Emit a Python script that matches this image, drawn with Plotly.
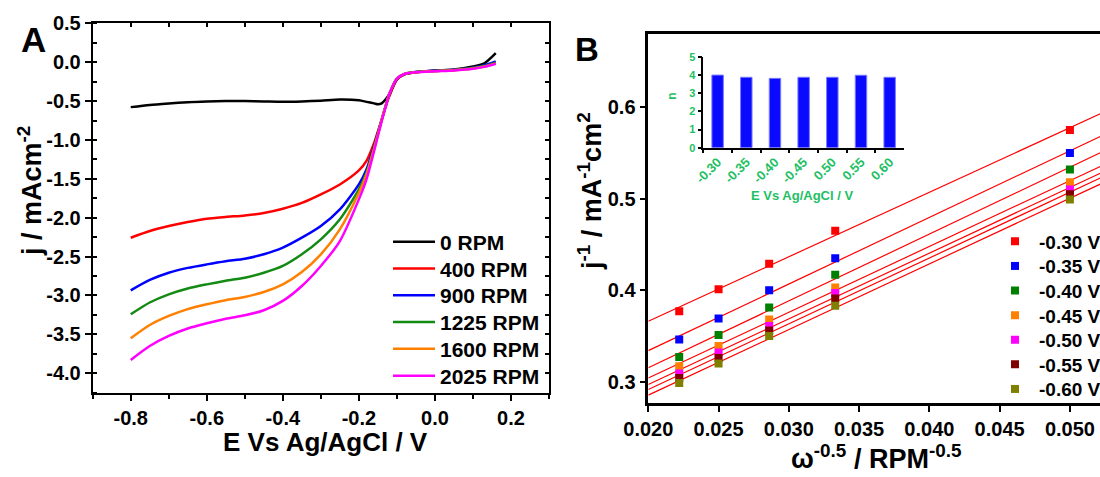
import numpy as np
import plotly.graph_objects as go

# ---------------- Panel A data (LSV curves) ----------------
E_A = [-0.8, -0.75, -0.7, -0.65, -0.6, -0.55, -0.5, -0.45, -0.4, -0.35, -0.3, -0.25,
       -0.2, -0.18, -0.16, -0.15, -0.14, -0.13, -0.12, -0.1, -0.08, -0.05, 0.0, 0.05,
       0.1, 0.13, 0.16]
j_0 = [-0.578, -0.55, -0.531, -0.515, -0.505, -0.50, -0.50, -0.505, -0.51, -0.505, -0.495,
       -0.48, -0.49, -0.51, -0.53, -0.54, -0.53, -0.48, -0.41, -0.22, -0.155, -0.13, -0.107,
       -0.094, -0.055, -0.015, 0.115]
j_400 = [-2.257, -2.17, -2.107, -2.055, -2.013, -1.99, -1.97, -1.94, -1.885, -1.81, -1.70,
         -1.572, -1.392, -1.27, -1.04, -0.89, -0.74, -0.58, -0.44, -0.225, -0.155, -0.128,
         -0.112, -0.10, -0.075, -0.05, -0.005]
j_900 = [-2.934, -2.80, -2.707, -2.645, -2.60, -2.56, -2.527, -2.47, -2.385, -2.257, -2.107,
         -1.893, -1.572, -1.38, -1.08, -0.91, -0.74, -0.57, -0.42, -0.215, -0.15, -0.125,
         -0.11, -0.098, -0.07, -0.04, 0.01]
j_1225 = [-3.242, -3.09, -2.985, -2.91, -2.857, -2.81, -2.771, -2.707, -2.62, -2.47, -2.278,
          -2.021, -1.636, -1.42, -1.10, -0.92, -0.74, -0.57, -0.41, -0.21, -0.15, -0.127,
          -0.113, -0.10, -0.075, -0.05, -0.005]
j_1600 = [-3.55, -3.38, -3.263, -3.175, -3.113, -3.06, -3.019, -2.955, -2.857, -2.698, -2.471,
          -2.15, -1.68, -1.443, -1.113, -0.93, -0.745, -0.57, -0.41, -0.21, -0.15, -0.128,
          -0.115, -0.103, -0.08, -0.055, -0.015]
j_2025 = [-3.829, -3.65, -3.52, -3.425, -3.358, -3.30, -3.255, -3.19, -3.07, -2.878, -2.62,
          -2.30, -1.764, -1.507, -1.143, -0.95, -0.758, -0.58, -0.41, -0.21, -0.152, -0.13,
          -0.117, -0.106, -0.085, -0.06, -0.02]
names_A = ["0 RPM", "400 RPM", "900 RPM", "1225 RPM", "1600 RPM", "2025 RPM"]
colors_A = ["#000000", "#ff0000", "#0000ff", "#138a13", "#ff8000", "#ff00ff"]

xtick_A = [-0.8, -0.6, -0.4, -0.2, 0.0, 0.2]
xtext_A = ["-0.8", "-0.6", "-0.4", "-0.2", "0.0", "0.2"]
ytick_A = [-4.0, -3.5, -3.0, -2.5, -2.0, -1.5, -1.0, -0.5, 0.0, 0.5]
ytext_A = ["-4.0", "-3.5", "-3.0", "-2.5", "-2.0", "-1.5", "-1.0", "-0.5", "0.0", "0.5"]

# ---------------- Panel B data (K-L plots) ----------------
w_inv = [0.0222, 0.0250, 0.0286, 0.0333, 0.0500]
kl_030 = [0.377, 0.401, 0.429, 0.465, 0.575]
kl_035 = [0.346, 0.369, 0.400, 0.435, 0.550]
kl_040 = [0.327, 0.351, 0.381, 0.417, 0.532]
kl_045 = [0.317, 0.339, 0.368, 0.403, 0.518]
kl_050 = [0.309, 0.332, 0.361, 0.397, 0.510]
kl_055 = [0.304, 0.326, 0.356, 0.391, 0.505]
kl_060 = [0.2985, 0.320, 0.350, 0.383, 0.499]
names_B = ["-0.30 V", "-0.35 V", "-0.40 V", "-0.45 V", "-0.50 V", "-0.55 V", "-0.60 V"]
colors_B = ["#ff0000", "#0000ff", "#008000", "#ff8000", "#ff00ff", "#800000", "#808000"]

xtick_B = [0.020, 0.025, 0.030, 0.035, 0.040, 0.045, 0.050]
xtext_B = ["0.020", "0.025", "0.030", "0.035", "0.040", "0.045", "0.050"]
ytick_B = [0.3, 0.4, 0.5, 0.6]
ytext_B = ["0.3", "0.4", "0.5", "0.6"]

# ---------------- Inset data (electron number n) ----------------
E_inset = ["-0.30", "-0.35", "-0.40", "-0.45", "0.50", "0.55", "0.60"]
n_inset = [3.99, 3.87, 3.81, 3.87, 3.87, 3.98, 3.87]
ytick_in = [0, 1, 2, 3, 4, 5]

# ---------------- Layout helpers ----------------
W, H = 1100, 477
def fx(p):
    return p / W
def fy(p):
    return 1 - p / H
def bold(lst):
    return ["<b>%s</b>" % s for s in lst]

FONT = "Liberation Sans, Arial, sans-serif"
GREEN = "#22c064"

xr_A = [-0.9, 0.3]
yr_A = [-4.25, 0.5]
xr_B = [0.020, 0.05214]
yr_B = [0.2764, 0.680]

def legend_id(k):
    return "legend" if k == 0 else "legend%d" % (k + 1)

fig = go.Figure()
legends = {}

# Panel A curves
for i, (ys, nm, c) in enumerate(zip([j_0, j_400, j_900, j_1225, j_1600, j_2025], names_A, colors_A)):
    lid = legend_id(i)
    fig.add_trace(go.Scatter(x=E_A, y=ys, mode="lines", name="<b>%s</b>" % nm,
                             line=dict(color=c, width=2.5, shape="spline", smoothing=0.7),
                             xaxis="x", yaxis="y", legend=lid))
    legends[lid] = dict(x=fx(388), y=fy(242 + 26.8 * i), xanchor="left", yanchor="middle",
                        bgcolor="rgba(0,0,0,0)", borderwidth=0, itemwidth=42,
                        font=dict(family=FONT, size=21, color="black"))

# mirror (inside) ticks for panel A
fig.add_trace(go.Scatter(x=[], y=[], xaxis="x5", yaxis="y", showlegend=False))
fig.add_trace(go.Scatter(x=[], y=[], xaxis="x", yaxis="y5", showlegend=False))

# Panel B fit lines
series_B = [kl_030, kl_035, kl_040, kl_045, kl_050, kl_055, kl_060]
x_line = np.array([xr_B[0], xr_B[1] + 0.002])
for ys in series_B:
    k, b = np.polyfit(w_inv, ys, 1)
    fig.add_trace(go.Scatter(x=x_line, y=k * x_line + b, mode="lines",
                             line=dict(color="#ff0000", width=1.2),
                             xaxis="x2", yaxis="y2", showlegend=False, hoverinfo="skip"))
# Panel B markers
for i, (ys, nm, c) in enumerate(zip(series_B, names_B, colors_B)):
    lid = legend_id(i + 6)
    fig.add_trace(go.Scatter(x=w_inv, y=ys, mode="markers", name="<b>%s</b>" % nm,
                             marker=dict(symbol="square", size=8, color=c),
                             xaxis="x2", yaxis="y2", legend=lid))
    legends[lid] = dict(x=fx(991), y=fy(241.5 + 24.6 * i), xanchor="left", yanchor="middle",
                        bgcolor="rgba(0,0,0,0)", borderwidth=0, itemwidth=38,
                        font=dict(family=FONT, size=19, color="black"))

# Inset bars
fig.add_trace(go.Bar(x=E_inset, y=n_inset, xaxis="x3", yaxis="y3", showlegend=False,
                     marker=dict(color="#0a0aff", line=dict(color="#7a7aff", width=1))))

tickfont = dict(family=FONT, size=20, color="black")
axis_common = dict(showline=True, linecolor="black", ticks="outside", ticklen=6,
                   tickwidth=2, tickcolor="black", showgrid=False, zeroline=False,
                   tickfont=tickfont, tickmode="array")

fig.update_layout(
    width=W, height=H,
    margin=dict(l=0, r=0, t=0, b=0, autoexpand=False),
    paper_bgcolor="white", plot_bgcolor="white",
    font=dict(family=FONT, color="black"),
    bargap=0.6,
    xaxis=dict(domain=[fx(92.7), fx(549)], range=xr_A, anchor="y",
               tickvals=xtick_A, ticktext=bold(xtext_A), linewidth=2, mirror=True,
               minor=dict(tickmode="linear", tick0=0, dtick=0.1, ticks="outside",
                          ticklen=4, tickwidth=1.5, tickcolor="black"),
               **axis_common),
    yaxis=dict(domain=[fy(392.7), fy(23.3)], range=yr_A, anchor="x",
               tickvals=ytick_A, ticktext=bold(ytext_A), linewidth=2, mirror=True,
               minor=dict(tickmode="linear", tick0=0, dtick=0.25, ticks="inside",
                          ticklen=4, tickwidth=1.5, tickcolor="black"),
               **axis_common),
    xaxis5=dict(overlaying="x", side="top", anchor="y", range=xr_A, showline=False,
                ticks="inside", ticklen=4, tickwidth=1.5, tickcolor="black",
                tickmode="linear", tick0=0, dtick=0.1, showticklabels=False,
                showgrid=False, zeroline=False),
    yaxis5=dict(overlaying="y", side="right", anchor="x", range=yr_A, showline=False,
                ticks="inside", ticklen=4, tickwidth=1.5, tickcolor="black",
                tickmode="linear", tick0=0, dtick=0.25, showticklabels=False,
                showgrid=False, zeroline=False),
    xaxis2=dict(domain=[fx(648.3), 1.0], range=xr_B, anchor="y2",
                tickvals=xtick_B, ticktext=bold(xtext_B), linewidth=2.5, mirror=True,
                **axis_common),
    yaxis2=dict(domain=[fy(403.3), fy(34)], range=yr_B, anchor="x2",
                tickvals=ytick_B, ticktext=bold(ytext_B), linewidth=2.5, mirror=False,
                **axis_common),
    xaxis3=dict(domain=[fx(703.3), fx(904)], anchor="y3", type="category",
                categoryorder="array", categoryarray=E_inset,
                tickmode="array", tickvals=E_inset, ticktext=bold(E_inset),
                showline=True, linecolor="black", linewidth=1.5, ticks="outside",
                ticklen=4, tickwidth=1.5, tickcolor="black", tickson="boundaries",
                tickangle=-45, showgrid=False, zeroline=False,
                tickfont=dict(family=FONT, size=13, color=GREEN)),
    yaxis3=dict(domain=[fy(147.7), fy(56.7)], anchor="x3", range=[0, 5],
                tickmode="array", tickvals=ytick_in, ticktext=bold([str(v) for v in ytick_in]),
                showline=True, linecolor="black", linewidth=1.5, ticks="outside",
                ticklen=4, tickwidth=1.5, tickcolor="black", showgrid=False,
                zeroline=False,
                tickfont=dict(family=FONT, size=11, color=GREEN)),
    **legends,
)

def ann(text, x, y, size, color="black", angle=0):
    fig.add_annotation(text="<b>%s</b>" % text, x=fx(x), y=fy(y), xref="paper", yref="paper",
                       showarrow=False, textangle=angle, xanchor="center", yanchor="middle",
                       font=dict(family=FONT, size=size, color=color))

ann("A", 33.5, 39.5, 35)
ann("B", 586.5, 49, 33)
ann("E Vs Ag/AgCl / V", 325, 442, 26)
ann("j / mAcm<sup>-2</sup>", 30, 191, 27, angle=-90)
ann("ω<sup>-0.5</sup> / RPM<sup>-0.5</sup>", 876, 457, 27)
ann("j<sup>-1</sup> / mA<sup>-1</sup>cm<sup>2</sup>", 590, 191, 27, angle=-90)
ann("E Vs Ag/AgCl / V", 802, 195, 13, color=GREEN)
ann("n", 671.7, 96, 12, color=GREEN, angle=-90)

fig.write_html("out.html")
